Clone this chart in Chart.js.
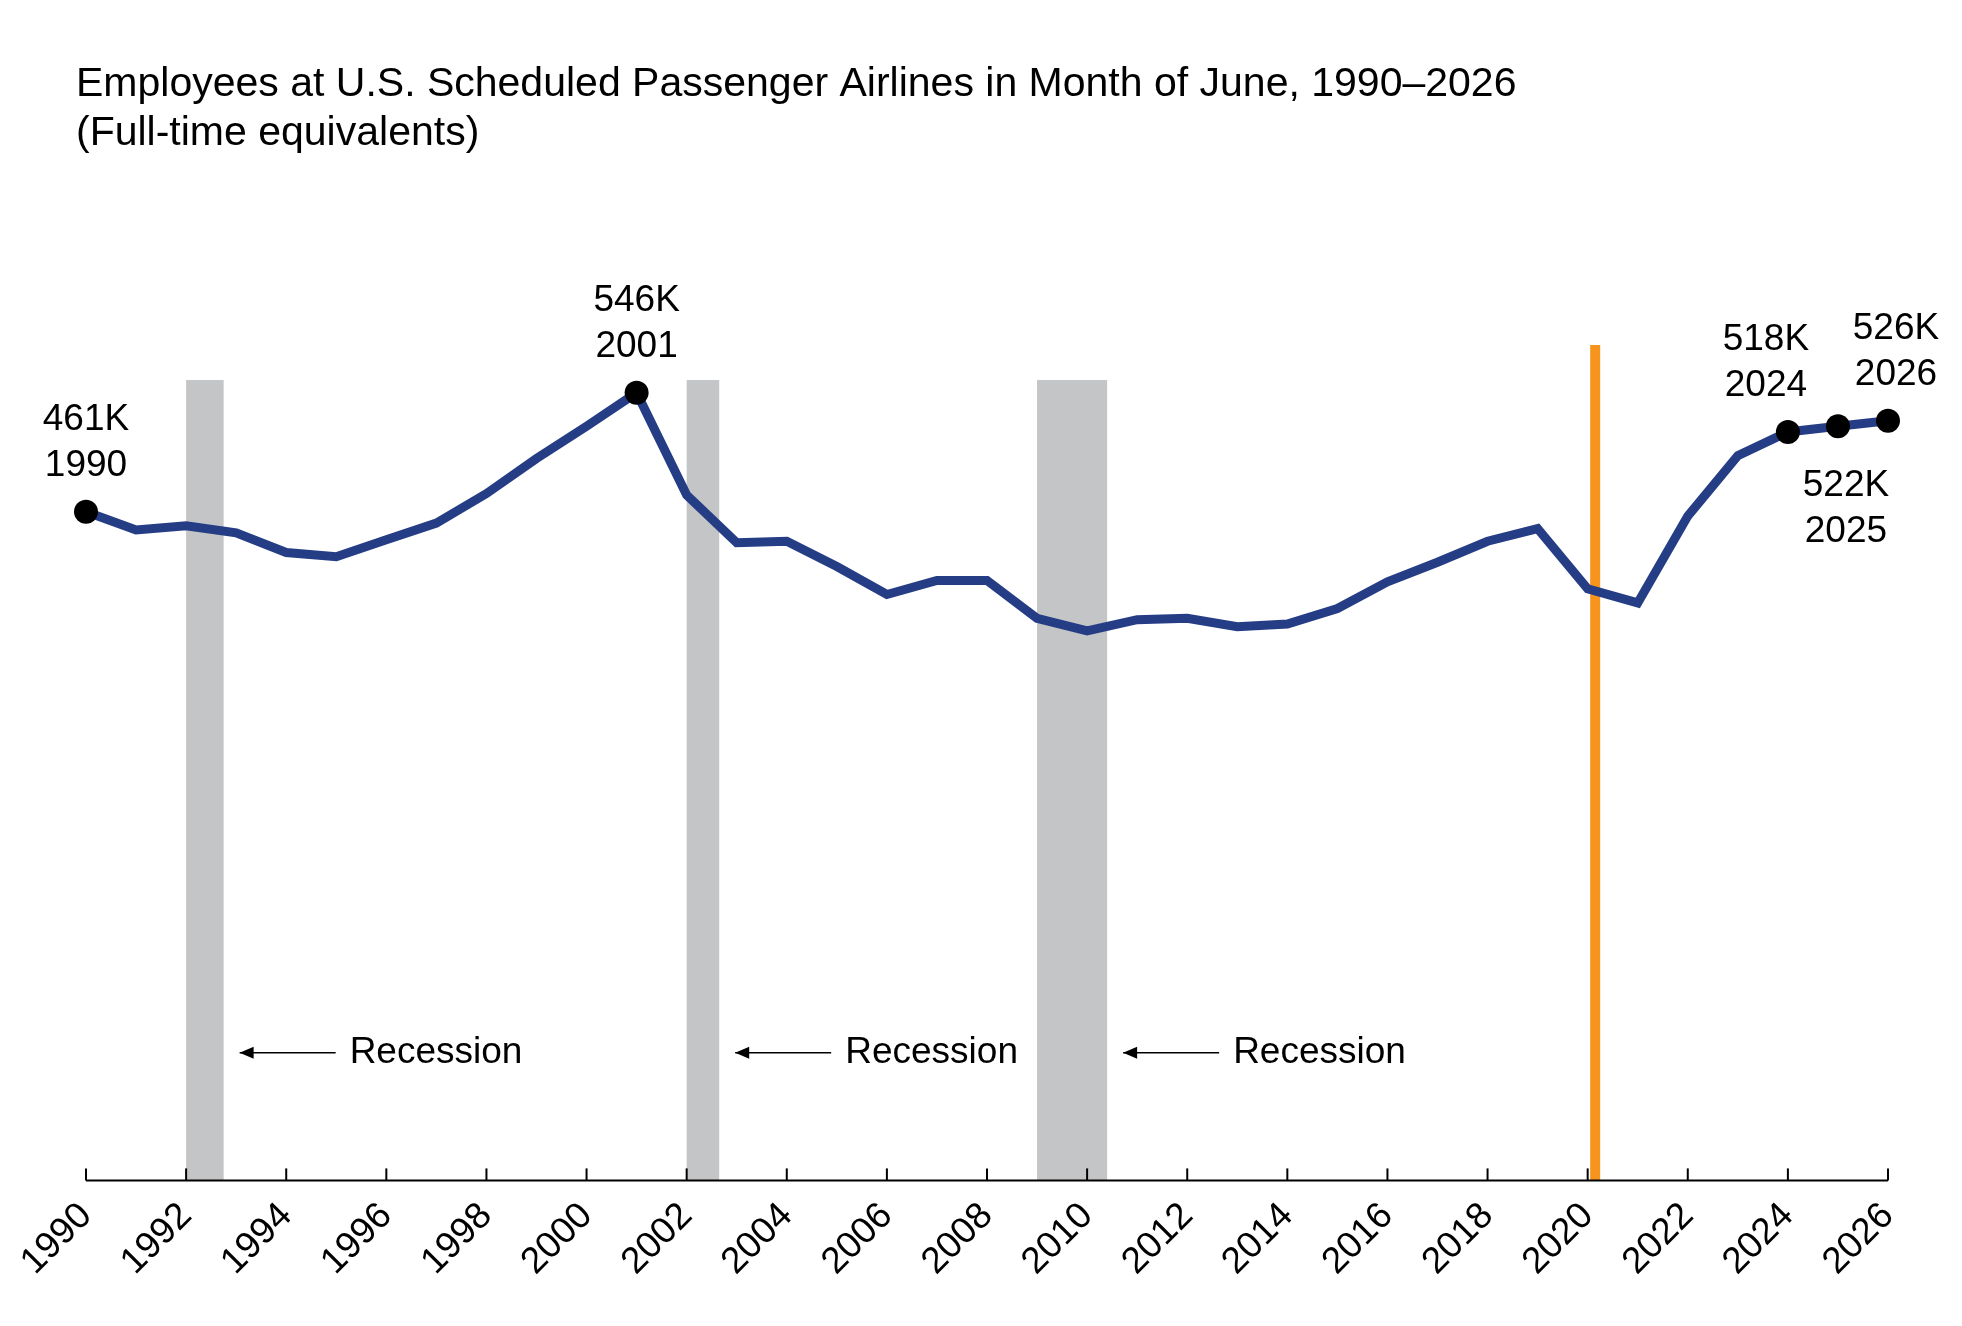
<!DOCTYPE html>
<html><head><meta charset="utf-8">
<script src="https://cdn.jsdelivr.net/npm/chart.js@4"></script>
<style>body{margin:0;background:#fff}</style>
</head><body>
<canvas id="c" width="1962" height="1326"></canvas>
<script>
const years = [];
for (let y = 1990; y <= 2026; y++) years.push(y);
const employees = [461,448,451,446,432,429,441,453,474,499,522,546,473,439,440,422,402,412,412,385,376,384,385,379,381,392,411,425,440,449,406,396,458,501,518,522,526];
const recessions = [[1992.0,1992.75],[2002.0,2002.65],[2009.0,2010.4]];
const covidYear = 2020.15;
const callouts = [
  {year:1990, text:['461K','1990'], pos:'above', dx:0},
  {year:2001, text:['546K','2001'], pos:'above', dx:0},
  {year:2024, text:['518K','2024'], pos:'above', dx:-22},
  {year:2025, text:['522K','2025'], pos:'below', dx:8},
  {year:2026, text:['526K','2026'], pos:'above', dx:8}
];
const markYears = [1990,2001,2024,2025,2026];
const FONT = 'Arial, "Liberation Sans", sans-serif';

const overlay = {
  id:'overlay',
  beforeDatasetsDraw(chart){
    const {ctx, chartArea:a, scales:{x,y}} = chart;
    ctx.save();
    const top = y.getPixelForValue(555);
    recessions.forEach(r => {
      const x0 = x.getPixelForValue(r[0]), x1 = x.getPixelForValue(r[1]);
      ctx.fillStyle = '#c4c5c7';
      ctx.fillRect(x0, top, x1-x0, a.bottom-top);
      // arrow + label
      const ay = y.getPixelForValue(75);
      const s = x1 + 16, e = s + 96;
      ctx.strokeStyle = '#000'; ctx.lineWidth = 1.5;
      ctx.beginPath(); ctx.moveTo(e, ay); ctx.lineTo(s, ay); ctx.stroke();
      ctx.fillStyle = '#000';
      ctx.beginPath(); ctx.moveTo(s, ay); ctx.lineTo(s+14, ay-6); ctx.lineTo(s+14, ay+6); ctx.closePath(); ctx.fill();
      ctx.font = '37px ' + FONT; ctx.textBaseline = 'middle'; ctx.textAlign = 'left';
      ctx.fillText('Recession', e + 14, ay);
    });
    ctx.fillStyle = '#f7941d';
    const cx = x.getPixelForValue(covidYear);
    ctx.fillRect(cx-5, a.top, 10, a.bottom-a.top);
    // ticks
    ctx.strokeStyle = '#000'; ctx.lineWidth = 2;
    for (let t = 1990; t <= 2026; t += 2) {
      const px = x.getPixelForValue(t);
      ctx.beginPath(); ctx.moveTo(px, a.bottom); ctx.lineTo(px, a.bottom-12); ctx.stroke();
    }
    ctx.beginPath(); ctx.moveTo(a.left, a.bottom); ctx.lineTo(a.right, a.bottom); ctx.stroke();
    ctx.restore();
  },
  afterDatasetsDraw(chart){
    const {ctx, scales:{x,y}} = chart;
    ctx.save();
    ctx.fillStyle = '#000';
    ctx.font = '37px ' + FONT; ctx.textAlign = 'center'; ctx.textBaseline = 'alphabetic';
    callouts.forEach(c => {
      const i = years.indexOf(c.year);
      const px = x.getPixelForValue(c.year) + c.dx, py = y.getPixelForValue(employees[i]);
      if (c.pos === 'above') {
        ctx.fillText(c.text[0], px, py - 82);
        ctx.fillText(c.text[1], px, py - 36);
      } else {
        ctx.fillText(c.text[0], px, py + 70);
        ctx.fillText(c.text[1], px, py + 116);
      }
    });
    ctx.font = '41px ' + FONT; ctx.textAlign = 'left';
    ctx.fillText('Employees at U.S. Scheduled Passenger Airlines in Month of June, 1990\u20132026', 76, 96);
    ctx.fillText('(Full-time equivalents)', 76, 145);
    ctx.restore();
  }
};

new Chart(document.getElementById('c'), {
  type:'line',
  data:{datasets:[{
    data: years.map((yr,i)=>({x:yr, y:employees[i]})),
    borderColor:'#253d85', borderWidth:9, tension:0, clip:false,
    pointRadius: years.map(yr => markYears.includes(yr) ? 12 : 0),
    pointBackgroundColor:'#000', pointBorderWidth:0, pointHoverRadius:0
  }]},
  options:{
    responsive:false, animation:false,
    layout:{padding:{left:86, right:74, top:345, bottom:36}},
    plugins:{legend:{display:false}, tooltip:{enabled:false}},
    scales:{
      x:{type:'linear', min:1990, max:2026,
        grid:{display:false}, border:{display:false},
        ticks:{stepSize:2, minRotation:45, maxRotation:45, color:'#000',
          font:{size:37, family:FONT}, callback:v=>String(v), padding:6}},
      y:{display:false, min:-16, max:580}
    }
  },
  plugins:[overlay]
});
</script>
</body></html>
